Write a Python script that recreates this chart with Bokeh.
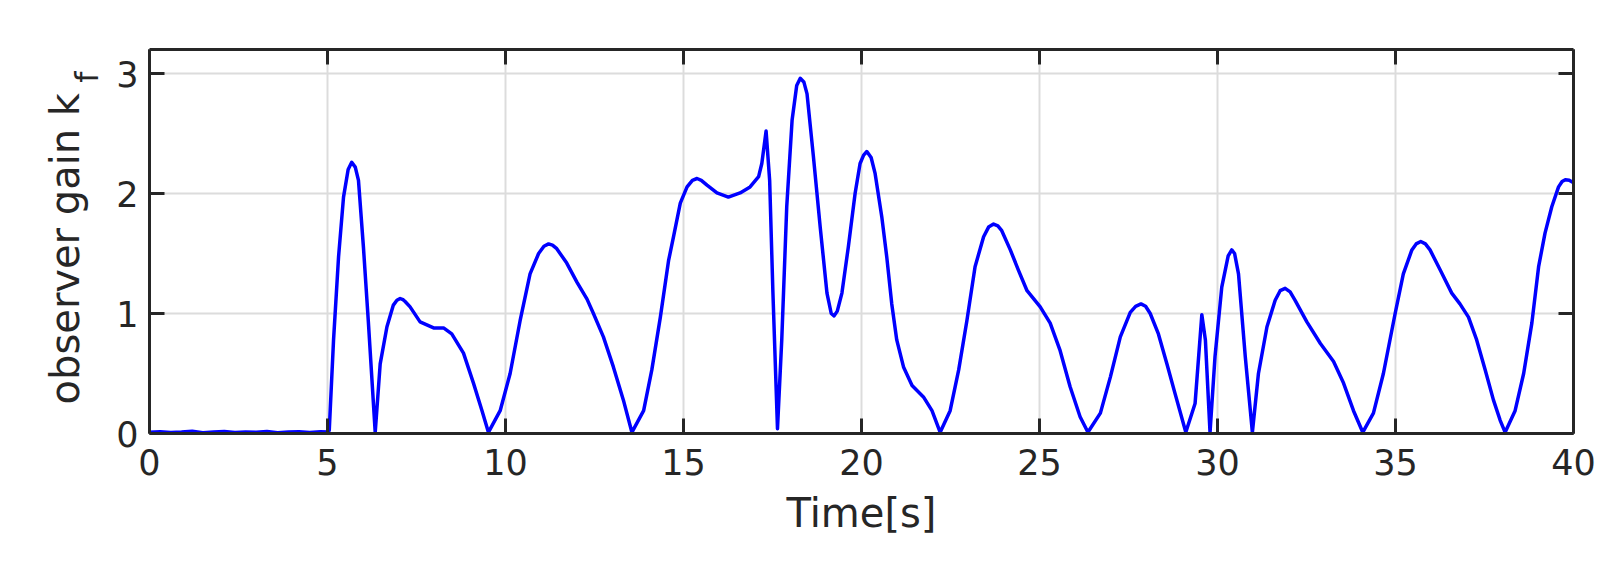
import math
from bokeh.plotting import figure
from bokeh.layouts import row
from bokeh.models import Range1d, FixedTicker, LinearAxis, ColumnDataSource
from bokeh.core.properties import value
from bokeh.embed import file_html
from bokeh.resources import INLINE

# ---- data ----
time_s = [0.0, 0.3, 0.6, 0.9, 1.2, 1.5, 1.8, 2.1, 2.4, 2.7, 3.0, 3.3, 3.6, 3.9, 4.2, 4.5, 4.8,
          5.03, 5.05, 5.17, 5.31, 5.45, 5.58, 5.68, 5.78, 5.87, 6.01, 6.15, 6.34, 6.48, 6.67,
          6.85, 6.95, 7.04, 7.12, 7.18, 7.32, 7.60, 7.98, 8.26, 8.49, 8.82, 9.10, 9.34, 9.52,
          9.85, 10.13, 10.41, 10.69, 10.93, 11.08, 11.21, 11.32, 11.44, 11.72, 12.01, 12.29,
          12.47, 12.75, 13.03, 13.31, 13.55, 13.88, 14.11, 14.35, 14.58, 14.72, 14.91, 15.10,
          15.25, 15.38, 15.50, 15.66, 15.94, 16.26, 16.59, 16.87, 17.11, 17.20, 17.32, 17.42,
          17.51, 17.64, 17.76, 17.90, 18.05, 18.18, 18.28, 18.38, 18.47, 18.65, 18.84, 19.03,
          19.15, 19.23, 19.32, 19.45, 19.63, 19.82, 19.96, 20.06, 20.15, 20.27, 20.38, 20.57,
          20.71, 20.85, 20.99, 21.18, 21.42, 21.74, 21.98, 22.21, 22.49, 22.73, 22.96, 23.19,
          23.43, 23.57, 23.71, 23.83, 23.94, 24.18, 24.41, 24.65, 25.02, 25.30, 25.58, 25.86,
          26.14, 26.36, 26.71, 26.99, 27.27, 27.55, 27.70, 27.85, 27.98, 28.11, 28.34, 28.58,
          28.81, 29.11, 29.37, 29.56, 29.66, 29.79, 29.93, 30.12, 30.30, 30.40, 30.48, 30.59,
          30.78, 30.98, 31.15, 31.39, 31.62, 31.76, 31.90, 32.04, 32.18, 32.51, 32.89, 33.26,
          33.54, 33.82, 34.08, 34.38, 34.66, 34.99, 35.22, 35.46, 35.58, 35.71, 35.84, 35.97,
          36.26, 36.58, 36.81, 37.05, 37.28, 37.52, 37.75, 37.94, 38.08, 38.36, 38.60, 38.83,
          39.02, 39.20, 39.39, 39.58, 39.68, 39.77, 39.88, 40.0]
gain_kf = [0.010, 0.015, 0.008, 0.012, 0.018, 0.006, 0.012, 0.016, 0.008, 0.013, 0.010, 0.017,
           0.007, 0.012, 0.015, 0.009, 0.014,
           0.012, 0.03, 0.78, 1.47, 1.97, 2.20, 2.26, 2.22, 2.11, 1.55, 0.92, 0.01, 0.58, 0.89,
           1.07, 1.11, 1.125, 1.115, 1.10, 1.055, 0.93, 0.88, 0.88, 0.83, 0.67, 0.42, 0.19, 0.01,
           0.19, 0.50, 0.94, 1.33, 1.50, 1.56, 1.58, 1.57, 1.54, 1.42, 1.26, 1.12,
           1.0, 0.805, 0.555, 0.28, 0.01, 0.19, 0.53, 0.97, 1.44, 1.64, 1.92, 2.055,
           2.11, 2.125, 2.11, 2.07, 2.005, 1.97, 2.005, 2.055, 2.14, 2.25, 2.52, 2.11,
           1.19, 0.04, 0.78, 1.89, 2.61, 2.90, 2.96, 2.93, 2.83, 2.305, 1.72, 1.17,
           1.0, 0.98, 1.02, 1.17, 1.555, 2.0, 2.25, 2.32, 2.35, 2.30, 2.17, 1.805,
           1.47, 1.08, 0.78, 0.555, 0.40, 0.305, 0.19, 0.01, 0.19, 0.53, 0.94, 1.39,
           1.64, 1.72, 1.745, 1.73, 1.69, 1.53, 1.36, 1.19, 1.055, 0.92, 0.69, 0.39,
           0.14, 0.01, 0.17, 0.47, 0.805, 1.01, 1.06, 1.08, 1.06, 1.0, 0.83, 0.58,
           0.33, 0.01, 0.25, 0.99, 0.78, 0.01, 0.64, 1.22, 1.48, 1.53, 1.50, 1.33,
           0.64, 0.01, 0.50, 0.89, 1.11, 1.19, 1.21, 1.18, 1.11, 0.93, 0.75, 0.60,
           0.42, 0.19, 0.01, 0.17, 0.50, 1.0, 1.33, 1.53, 1.58, 1.60, 1.58, 1.53,
           1.36, 1.17, 1.08, 0.97, 0.78, 0.53, 0.28, 0.11, 0.01, 0.19, 0.50, 0.92,
           1.39, 1.67, 1.89, 2.055, 2.10, 2.115, 2.11, 2.09]

x_ticks = [0, 5, 10, 15, 20, 25, 30, 35, 40]
y_ticks = [0, 1, 2, 3]
x_label = "Time[s]"
y_label_main = "observer gain k"
y_label_sub = "f"

FONT = "DejaVu Sans"
AX = "#262626"
H = 560
LEFT_W = 109
MAIN_W = 1606 - LEFT_W
TOP = 49
FRAME_H = 384
BOTTOM = H - TOP - FRAME_H
Y_MAX = 3.2

# ---- main plot ----
p = figure(width=MAIN_W, height=H, x_range=Range1d(0, 40), y_range=Range1d(0, Y_MAX),
           output_backend="svg", toolbar_location=None,
           min_border_left=40, min_border_right=33, min_border_top=TOP, min_border_bottom=BOTTOM)
p.outline_line_color = None
p.background_fill_color = "white"
p.border_fill_color = "white"

src = ColumnDataSource(dict(t=time_s, k=gain_kf))
p.line("t", "k", source=src, line_color="#0000ff", line_width=3.5, line_join="round")

xt = FixedTicker(ticks=x_ticks)
yt = FixedTicker(ticks=y_ticks)


def style(ax, ticker, labels=True):
    ax.ticker = ticker
    ax.axis_line_color = AX
    ax.axis_line_width = 3
    ax.major_tick_line_color = AX
    ax.major_tick_line_width = 3
    ax.major_tick_in = 15
    ax.major_tick_out = 0
    ax.minor_tick_line_color = None
    ax.major_label_text_font = FONT
    ax.major_label_text_color = AX
    if labels:
        ax.major_label_text_font_size = "35px"
    else:
        ax.major_label_overrides = {t: "" for t in ticker.ticks}
        ax.major_label_text_font_size = "1px"
        ax.major_label_standoff = 0


xa = p.xaxis[0]
style(xa, xt)
xa.major_label_standoff = 15
xa.axis_label = x_label
xa.axis_label_text_font = FONT
xa.axis_label_text_font_size = "40px"
xa.axis_label_text_font_style = "normal"
xa.axis_label_text_color = AX
xa.axis_label_standoff = 12

ya = p.yaxis[0]
style(ya, yt)
ya.major_label_standoff = 11

top = LinearAxis()
style(top, xt, labels=False)
p.add_layout(top, "above")
right = LinearAxis()
style(right, yt, labels=False)
p.add_layout(right, "right")

p.xgrid.ticker = xt
p.ygrid.ticker = yt
for g in (p.xgrid[0], p.ygrid[0]):
    g.grid_line_color = "#dcdcdc"
    g.grid_line_width = 2

# ---- narrow panel holding the y-axis title (with subscript) ----
# its frame is aligned with the main frame vertically, so it shares the y scale
lab = figure(width=LEFT_W, height=H, x_range=Range1d(0, LEFT_W), y_range=Range1d(0, Y_MAX),
             output_backend="svg", toolbar_location=None, x_axis_type=None, y_axis_type=None,
             min_border_left=0, min_border_right=0, min_border_top=TOP, min_border_bottom=BOTTOM)
lab.outline_line_color = None
lab.xgrid.visible = False
lab.ygrid.visible = False
lab.background_fill_color = "white"
lab.border_fill_color = "white"
lab.text(x=[64], y=[1.54], text=[y_label_main], angle=math.pi / 2,
         text_align="center", text_baseline="alphabetic",
         text_font=value(FONT), text_font_size=value("40px"), text_color=AX)
lab.text(x=[86], y=[2.97], text=[y_label_sub], angle=math.pi / 2,
         text_align="center", text_baseline="alphabetic",
         text_font=value(FONT), text_font_size=value("32px"), text_color=AX)

layout = row(lab, p, spacing=0)
open("out.html", "w").write(file_html(layout, INLINE))
